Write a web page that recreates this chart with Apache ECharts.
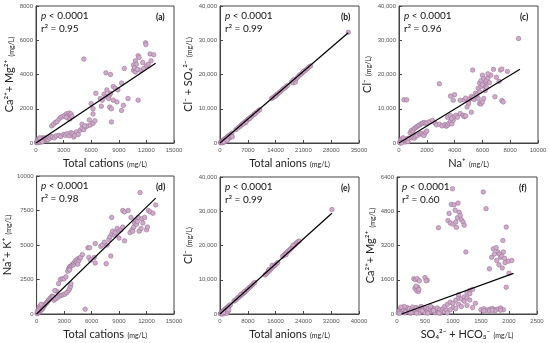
<!DOCTYPE html>
<html><head><meta charset="utf-8">
<script src="https://cdn.jsdelivr.net/npm/echarts@6/dist/echarts.min.js"></script>
<style>html,body{margin:0;padding:0;background:#fff}#c{width:550px;height:343px}</style>
</head><body><div id="c"></div>
<script>
// ---- data ----
const ptsA = [[50,20],[100,50],[150,80],[200,30],[250,120],[300,60],[350,150],[400,90],[450,200],[500,120],[550,250],[600,180],[650,100],[700,300],[750,220],[800,150],[850,260],[900,200],[950,300],[1000,180],[120,150],[220,200],[320,250],[420,300],[380,40],[580,60],[700,80],[1100,250],[1200,300],[1300,200],[1400,350],[1500,280],
[1600,400],[1800,350],[2000,300],[2200,420],[2500,450],[2700,380],[3000,500],[3200,450],[3400,550],[3600,420],[3800,600],[4000,550],[4100,350],[4200,450],[4400,650],[4600,500],[4800,750],[5000,850],[5200,780],[5400,950],[5600,1000],[5900,1050],[6200,1150],[6400,1300],
[1700,1000],[1900,1100],[2100,1200],[2300,1250],[2500,1400],[2700,1500],[2900,1550],[3100,1600],[3300,1700],[3400,1550],[3500,1650],[3600,1750],[3700,1600],[3800,1700],[3500,1450],[3300,1500],[3700,1400],[3900,1550],
[5000,1100],[5300,1000],[5800,1350],[6200,1700],[5200,4900],[6000,2300],[6200,2000],[6500,2900],[7000,2600],[7100,2150],[7200,2500],[7400,2850],[7600,2700],[7900,2600],[8000,2800],[8100,2900],[7700,3100],[8400,3300],[8600,3200],[8900,3100],[8400,2500],[8800,2400],[8000,2100],[8200,2000],[8200,1230],[9300,1900],[9500,2200],[10000,2600],[11100,2500],[9300,3500],[7600,4100],[8100,4000],[9600,4350],
[10600,4550],[10800,4800],[10900,4600],[11100,5100],[11200,5000],[11600,4700],[12000,4500],[11700,4350],[10600,4250],[10800,4150],[11300,4250],[11900,5850],[11950,5750],[12400,5200],[12800,5150],[10700,4400],[11000,4300],[12200,4600],[12500,4800]];
const fitA = [[0,0],[13000,4650]];

const ptsB = [[100,100],[200,150],[300,350],[400,300],[500,450],[600,500],[700,650],[800,700],[900,850],[1000,900],[1100,1000],[1200,1150],[1400,1300],[1500,1400],[1700,1600],[1900,1800],[2100,2000],[2300,2200],[2500,2300],[2700,2500],[3000,2900],[800,200],[1200,400],[1500,600],[2000,1100],[2500,1600],[2800,1900],[3100,1800],[350,50],[600,100],[900,300],[1800,800],
[4000,3900],[4500,4400],[5000,4800],[5300,5200],[5600,5500],[6000,5800],[6300,6200],[6700,6500],[7000,6900],[7300,7100],[7700,7500],[8000,7800],[8500,8300],[9000,8800],[9500,9300],[10000,9700],[6500,6000],[7500,7200],[5800,5600],[8800,8500],
[13000,13000],[13400,13300],[13800,13600],[14200,14100],[14500,14300],[15000,14800],[15400,15200],[15800,15700],[16200,16000],[16600,16400],[17000,16800],[14000,13700],
[18000,17800],[18400,17600],[18800,18200],[19200,18700],[19600,19300],[20000,19800],[20400,20100],[20800,20600],[21200,21000],[21600,21300],[22000,21700],[22400,22200],[22800,22500],[19000,17800],[18500,18500],[21000,20900],
[32300,32300]];
const fitB = [[0,0],[32300,32200]];

const ptsC = [[50,100],[100,300],[150,200],[200,500],[250,400],[300,800],[350,600],[400,1000],[450,300],[500,700],[550,1200],[600,900],[100,800],[200,1200],[300,1500],[80,50],[180,0],[650,400],[700,1400],[350,12600],[550,12600],
[800,3000],[900,3700],[1000,3500],[1100,4200],[1200,4500],[1300,4800],[1400,5100],[1500,5300],[1600,5600],[1700,5800],[1800,6000],[1900,5700],[2000,5900],[2200,6200],[2400,6600],[2600,5800],
[900,1500],[1000,1800],[1100,1400],[1200,2000],[1300,2200],[1500,2600],[1600,2800],[1700,2500],[1800,2200],[1900,3100],[2000,3500],
[2700,5300],[2900,5500],[3100,5000],[3300,5400],[3400,4900],[3500,5200],[3600,5700],[3700,6300],[3800,5600],[3900,6600],[3500,7500],[3700,8000],[3800,7200],[4000,7700],[4100,8100],[4200,7500],[4400,8600],[4600,8100],[4700,7700],[4800,7900],[2900,17300],[3700,13700],[4000,14100],[3900,12500],[4700,12600],[4800,13100],[5000,12300],[5100,12900],[5200,13600],[5300,13100],[5400,12700],[5000,11500],[4900,10500],[5200,9000],[4400,12500],
[5300,21300],[5400,13500],[5500,14500],[5600,14000],[5700,13000],[5800,11500],[5900,11400],[6000,12000],[6100,13000],[5800,15000],[5700,16000],[5800,17500],[5900,18200],[6000,19800],[6100,18800],[6200,17500],[6300,18300],[6400,19000],[6500,17600],[6600,19800],[6100,16800],[6200,15300],[6300,16200],[5900,16500],[6000,17000],[6900,13500],[6800,21500],[7200,18000],[7300,21300],[7400,21600],[7000,19200],[7400,12400],[7500,12000],[7800,20900],[8600,30500],[6400,20200]];
const fitC = [[0,0],[8700,21500]];

const ptsD = [[50,30],[100,80],[150,60],[200,150],[250,120],[300,250],[350,200],[400,300],[450,350],[500,280],[550,400],[600,450],[650,380],[700,550],[750,500],[800,600],[900,650],[1000,750],[1100,800],[1200,900],[1300,1000],[1400,1050],[1500,1150],[1600,1200],[1700,1300],[1800,1250],[100,200],[200,350],[300,500],[400,600],[500,700],
[1900,1000],[2100,1100],[2300,1200],[2500,1300],[2700,1350],[2900,1400],[3100,1450],[3300,1550],[3500,1700],[3600,1850],[3700,2000],[3750,2200],[2200,1650],[2000,1700],
[2400,2200],[2600,2500],[2800,2550],[3000,2550],[3200,2700],[3400,3100],[3500,3300],[3600,3400],[3700,3450],[3800,3500],[3900,3600],[4000,3550],[4100,3700],[4200,3800],[4300,3900],[4400,3750],[4500,4000],[4600,3850],[4700,4050],[4800,4100],[5000,4300],[4500,3600],[3600,3200],
[5300,350],[5600,4800],[5800,4800],[5700,4100],[5900,3900],[6400,3700],[6300,4100],[6400,5100],[7000,4900],[7200,5000],[7400,5200],[7600,3650],[7700,5000],[7900,5400],[8000,5600],[8100,4200],[8200,5800],[8300,6000],[8200,7000],[8500,5700],[8600,5900],[8800,6200],[9000,6000],[9200,6100],[9400,6300],[9400,7500],[9600,7400],[9600,5300],[9000,5500],
[10000,7500],[10200,5900],[10400,6100],[10500,6000],[10600,6300],[10700,6600],[10800,6800],[10900,6500],[11000,6700],[11100,7000],[11200,6000],[11400,6200],[11500,6900],[11800,7000],[12000,6100],[12100,6300],[12200,7500],[12400,7400],[12700,7300],[13000,7900],[11300,8800],[11600,6600],[10300,7000]];
const fitD = [[0,0],[13000,8400]];

const ptsE = [[100,50],[200,150],[300,250],[400,350],[500,450],[600,500],[700,650],[800,700],[900,850],[1000,900],[1200,1100],[1400,1300],[1600,1500],[1800,1600],[2000,1800],[2200,2000],[2500,2300],[2800,2500],[3000,2700],[800,0],[1200,200],[1500,400],[1800,600],[2000,200],[2300,800],[2500,1200],[600,100],[1000,500],
[4000,3800],[4400,4000],[4800,4400],[5200,4800],[5500,5000],[5800,5300],[6100,5500],[6400,5900],[6700,6000],[7000,6300],[7300,6600],[7600,6900],[8000,7300],[8400,7700],[8800,8000],[9200,8400],[9600,8800],[10000,9200],[6000,5700],[7000,6500],
[13000,11400],[13400,11800],[13800,12300],[14200,12600],[14600,13100],[15000,13500],[15400,13900],[15000,14200],[15800,14200],[16200,14600],[16600,15000],[14000,12900],
[18000,16800],[18400,17200],[18800,17600],[19200,18000],[19600,18300],[20000,18700],[20400,19100],[20800,19500],[21200,19900],[21600,20300],[22000,20700],[22400,21100],[22800,21300],[19000,17300],[21000,20100],
[32200,30500]];
const fitE = [[0,0],[32200,29400]];

const ptsF = [[20,50],[40,150],[60,250],[80,100],[100,300],[120,200],[140,50],[160,150],[180,300],[200,100],[220,250],[240,30],[260,180],[280,320],[300,80],[320,200],[340,300],[360,120],[380,250],[400,50],[420,180],[440,300],[460,100],[480,220],[500,60],[520,280],[540,150],[560,250],[580,80],[600,200],[620,300],[640,120],[660,240],[680,60],[700,180],[720,280],[740,100],[760,200],[780,50],[800,150],[820,250],[850,100],[880,200],[900,50],[50,30],[150,100],[250,60],[350,40],[450,150],[550,40],[650,160],[750,40],[130,350],[430,350],[70,320],[600,350],
[300,1650],[330,1600],[360,1650],[400,1550],[320,1200],[350,1100],[380,1050],[370,1250],[340,1300],[390,1150],[500,1700],[540,1580],[520,1550],
[850,350],[900,450],[950,550],[1000,500],[1050,650],[1100,750],[1150,700],[1200,800],[1250,1000],[1300,1100],[1350,1150],[1300,950],[1200,600],[1100,450],[1000,300],[950,200],[1050,250],[1150,350],[1250,400],[1350,300],[1400,500],[1250,750],[1300,650],[1100,900],
[1500,200],[1550,250],[1600,180],[1650,220],[1700,260],[1750,200],[1800,230],[1850,280],[1900,200],[1550,150],[1650,150],[1750,150],[1850,180],[1700,180],
[740,4030],[990,5850],[930,4700],[970,5120],[1020,5100],[1090,5180],[910,4370],[950,4250],[1000,4200],[1050,4300],[1080,4500],[1110,4750],[1130,4600],[1150,4400],[1180,4300],[1200,4150],[1040,4850],[1060,4050],[1230,2900],[1540,5700],[1590,4920],[1950,4060],[1890,3430],[1720,3040],[1770,3100],[1800,2900],[1830,2800],[1850,2650],[1870,2700],[1900,2900],[1920,2600],[1780,2500],[1820,2300],[1880,2150],[1930,2400],[1650,2110],[1690,2650],[1740,2800],[1990,2470],[1950,1250],[2050,2500],[2000,1900]];
const fitF = [[80,0],[2080,1900]];

const panelLabels = ['(a)','(b)','(c)','(d)','(e)','(f)'];
const r2Values = ['0.95','0.99','0.96','0.98','0.99','0.60'];
const xNames = ['Total cations','Total anions','Na⁺','Total cations','Total anions','SO₄²⁻ + HCO₃⁻'];
const yNames = ['Ca²⁺+ Mg²⁺','Cl⁻ + SO₄²⁻','Cl⁻','Na⁺+ K⁺','Cl⁻','Ca²⁺+ Mg²⁺'];
const xMax = [15000,35000,10000,15000,40000,2500];
const xStep = [3000,7000,2000,3000,8000,500];
const yMax = [8000,40000,40000,10000,40000,6400];
const yStep = [2000,10000,10000,2500,10000,1600];
const yComma = [false,true,true,false,true,false];

// ---- layout ----
const grids = [
  {left:36, top:6, width:138, height:137},
  {left:220, top:6, width:139, height:137},
  {left:399, top:6, width:139, height:137},
  {left:36, top:176, width:138, height:138},
  {left:220, top:177, width:139, height:137},
  {left:397, top:177, width:140, height:137}
];
const pts = [ptsA,ptsB,ptsC,ptsD,ptsE,ptsF];
const fits = [fitA,fitB,fitC,fitD,fitE,fitF];
const FONT = 'Lato, "Open Sans", sans-serif';
const tickLbl = {fontSize:6, color:'#555', fontFamily:'"Liberation Sans", Arial, sans-serif'};
const unitRich = {m:{fontSize:11, color:'#222', fontFamily:FONT}, s:{fontSize:7, color:'#222', fontFamily:FONT, padding:[3,0,0,0]}};

const xAxis = [], yAxis = [], series = [], graphic = [];
for (let i=0;i<6;i++){
  xAxis.push({gridIndex:i, type:'value', min:0, max:xMax[i], interval:xStep[i],
    name:'{m|'+xNames[i]+'} {s|(mg/L)}', nameLocation:'middle', nameGap:14,
    nameTextStyle:{rich:unitRich},
    axisLine:{lineStyle:{color:'#444',width:1}}, axisTick:{inside:true,length:3,lineStyle:{color:'#444'}},
    axisLabel:Object.assign({margin:4, formatter:(v=>String(v))}, tickLbl), splitLine:{show:false}});
  yAxis.push({gridIndex:i, type:'value', min:0, max:yMax[i], interval:yStep[i],
    name:'{m|'+yNames[i]+'} {s|(mg/L)}', nameLocation:'middle', nameGap:i===2||i===4?24:20,
    nameTextStyle:{rich:unitRich},
    axisLine:{lineStyle:{color:'#444',width:1}}, axisTick:{inside:true,length:3,lineStyle:{color:'#444'}},
    axisLabel:Object.assign({margin:3, formatter: yComma[i] ? (v=>v.toLocaleString('en-US')) : (v=>String(v))}, tickLbl),
    splitLine:{show:false}});
  series.push({type:'scatter', xAxisIndex:i, yAxisIndex:i, data:pts[i], symbolSize:4.5,
    itemStyle:{color:'#cfaccb', borderColor:'#9a7094', borderWidth:0.6, opacity:1}});
  series.push({type:'line', xAxisIndex:i, yAxisIndex:i, data:fits[i], symbol:'none', z:5,
    lineStyle:{color:'#000', width:1.2}});
  const g = grids[i];
  graphic.push({type:'text', left:g.left+5, top:g.top+5,
    style:{text:'{i|p} < 0.0001', fontSize:10, fontFamily:FONT, fill:'#111',
      rich:{i:{fontStyle:'italic', fontSize:10, fontFamily:FONT, fill:'#111'}}}});
  graphic.push({type:'text', left:g.left+5, top:g.top+18,
    style:{text:'r² = '+r2Values[i], fontSize:10, fontFamily:FONT, fill:'#111'}});
  graphic.push({type:'text', left:g.left+g.width-18, top:g.top+7,
    style:{text:panelLabels[i], fontSize:8.5, fontWeight:'bold', fontFamily:FONT, fill:'#111'}});
}

const chart = echarts.init(document.getElementById('c'), null, {renderer:'canvas'});
chart.setOption({
  animation:false,
  grid: grids.map(g=>Object.assign({show:true, borderColor:'#444', borderWidth:1, backgroundColor:'transparent'}, g)),
  xAxis, yAxis, series, graphic
});
</script></body></html>
